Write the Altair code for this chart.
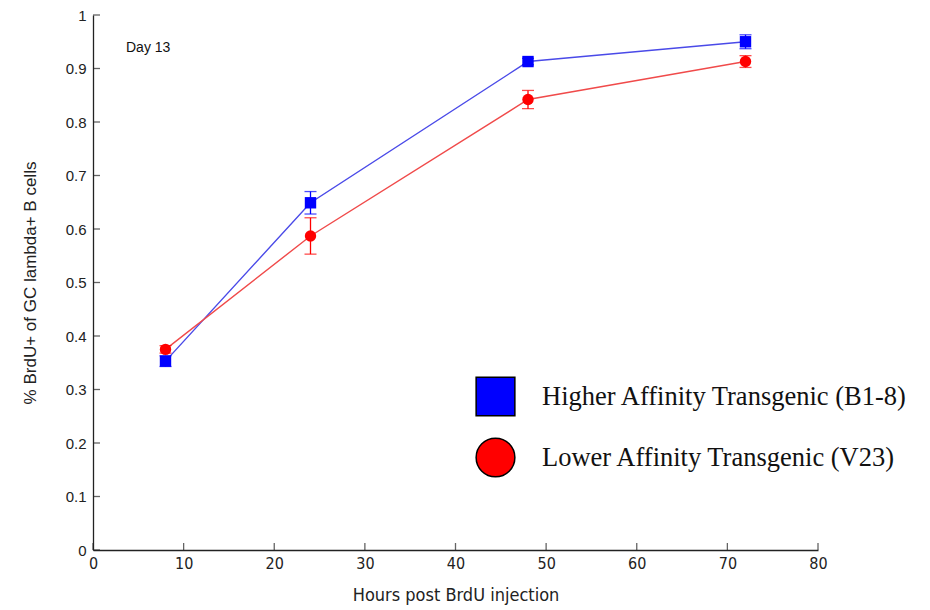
import altair as alt
import pandas as pd

hours = [8, 24, 48, 72]
series_names = ["Higher Affinity Transgenic (B1-8)", "Lower Affinity Transgenic (V23)"]
high_mean = [0.353, 0.649, 0.913, 0.950]
high_err = [0.010, 0.021, 0.006, 0.013]
low_mean = [0.375, 0.587, 0.842, 0.913]
low_err = [0.007, 0.034, 0.017, 0.011]
x_ticks = [0, 10, 20, 30, 40, 50, 60, 70, 80]
y_ticks = [0, 0.1, 0.2, 0.3, 0.4, 0.5, 0.6, 0.7, 0.8, 0.9, 1.0]
annotation = "Day 13"

marker_colors = ["#0000ff", "#ff0000"]
line_colors = ["#4a4ae8", "#f04a4a"]

rows = []
for name, means, errs in [(series_names[0], high_mean, high_err), (series_names[1], low_mean, low_err)]:
    for h, m, e in zip(hours, means, errs):
        rows.append({"hours": h, "value": m, "err": e, "series": name})
df = pd.DataFrame(rows)
df["lo"] = df["value"] - df["err"]
df["hi"] = df["value"] + df["err"]

W, H = 725, 535
narrow = "'DejaVu Sans Condensed', 'Liberation Sans', sans-serif"

xscale = alt.Scale(domain=[0, 80], nice=False)
yscale = alt.Scale(domain=[0, 1], nice=False)
xaxis = alt.Axis(values=x_ticks, title="Hours post BrdU injection", format="d",
                 labelFont=narrow, labelFontSize=16, labelColor="#222",
                 titleFont=narrow, titleFontSize=18, titleColor="#222", titleFontWeight="normal",
                 titlePadding=15, labelPadding=5, tickSize=0, grid=False,
                 domainColor="#222", domainWidth=1.3, labelFlush=False)
yaxis = alt.Axis(values=y_ticks, title="% BrdU+ of GC lambda+ B cells",
                 labelExpr="datum.value == 0 ? '0' : datum.value == 1 ? '1' : format(datum.value, '.1f')",
                 labelFont="Liberation Sans", labelFontSize=15, labelColor="#222",
                 titleFont="Liberation Sans", titleFontSize=17, titleColor="#222", titleFontWeight="normal",
                 titlePadding=26, labelPadding=7, tickSize=0, grid=False,
                 domainColor="#222", domainWidth=1.3)

X = alt.X("hours:Q", scale=xscale, axis=xaxis)
Y = alt.Y("value:Q", scale=yscale, axis=yaxis)
YLO = alt.Y("lo:Q", scale=yscale, axis=yaxis)
YHI = alt.Y("hi:Q", scale=yscale, axis=yaxis)

color_scale = alt.Scale(domain=series_names, range=marker_colors)
shape_scale = alt.Scale(domain=series_names, range=["square", "circle"])

legend_props = dict(
    title=None, orient="none", legendX=382, legendY=361,
    labelFont="Liberation Serif", labelFontSize=26.5, labelColor="#111", labelLimit=0,
    symbolSize=1500, symbolStrokeColor="black", symbolStrokeWidth=1.5,
    labelOffset=26, rowPadding=16)

base = alt.Chart(df)

layers = []
for name, mc, lc in zip(series_names, marker_colors, line_colors):
    sb = base.transform_filter(alt.datum.series == name)
    layers.append(sb.mark_line(strokeWidth=1.4, color=lc).encode(x=X, y=Y))
    layers.append(sb.mark_rule(strokeWidth=1.3, color=mc).encode(x=X, y=YLO, y2="hi:Q"))
    layers.append(sb.mark_tick(orient="horizontal", size=12, thickness=1.3, color=mc).encode(x=X, y=YLO))
    layers.append(sb.mark_tick(orient="horizontal", size=12, thickness=1.3, color=mc).encode(x=X, y=YHI))

points = base.mark_point(filled=True, opacity=1, size=130).encode(
    x=X, y=Y,
    color=alt.Color("series:N", scale=color_scale, legend=alt.Legend(**legend_props)),
    shape=alt.Shape("series:N", scale=shape_scale, legend=alt.Legend(**legend_props)),
)
layers.append(points)

xt = alt.Chart(pd.DataFrame({"t": x_ticks})).mark_tick(orient="vertical", size=7, thickness=1.3, color="#222", yOffset=-3.5).encode(
    x=alt.X("t:Q", scale=xscale, axis=xaxis), y=alt.value(H)
)
yt = alt.Chart(pd.DataFrame({"t": y_ticks})).mark_tick(orient="horizontal", size=7, thickness=1.3, color="#222", xOffset=3.5).encode(
    y=alt.Y("t:Q", scale=yscale, axis=yaxis), x=alt.value(0)
)

txt = alt.Chart(pd.DataFrame({"label": [annotation]})).mark_text(
    align="left", baseline="middle", font="Liberation Sans", fontSize=14, color="#111"
).encode(text="label:N", x=alt.value(33), y=alt.value(33))

layers += [xt, yt, txt]

chart = alt.layer(*layers).properties(
    width=W, height=H,
    autosize=alt.AutoSizeParams(type="none"),
    padding={"left": 85, "top": 7, "right": 100, "bottom": 60},
).configure_view(stroke=None)

chart.save("out.html", embed_options={"renderer": "svg", "actions": False})
